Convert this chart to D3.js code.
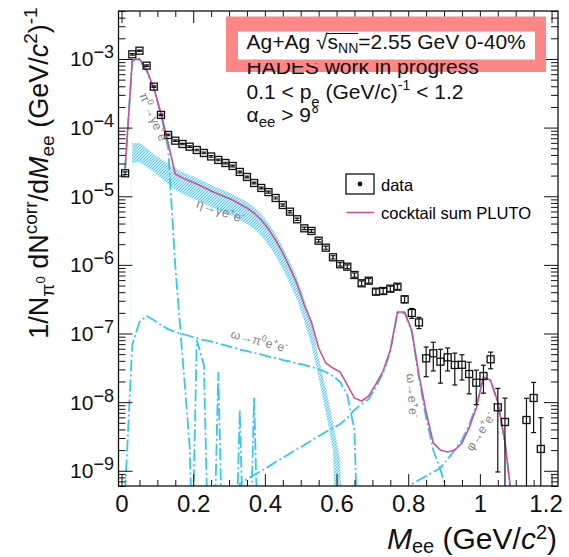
<!DOCTYPE html>
<html>
<head>
<meta charset="utf-8">
<script src="https://cdn.jsdelivr.net/npm/d3@7/dist/d3.min.js"></script>
<style>
  html, body { margin: 0; padding: 0; background: #fff; }
  svg { display: block; }
  text { font-family: "Liberation Sans", Arial, Helvetica, sans-serif; }
</style>
</head>
<body>
<svg id="chart" width="569" height="557"></svg>
<script>
// ---------------- measured dielectron yield (Ag+Ag, 0-40%) ----------------
const dataMass = [
  0.01,0.03,0.05,0.07,0.09,0.11,0.13,0.15,0.17,0.19,
  0.21,0.23,0.25,0.27,0.29,0.31,0.33,0.35,0.37,0.39,
  0.41,0.43,0.45,0.47,0.49,0.51,0.53,0.55,0.57,0.59,
  0.61,0.63,0.65,0.67,0.69,0.71,0.73,0.75,0.77,0.79,
  0.81,0.83,0.85,0.87,0.89,0.91,0.93,0.95,0.97,0.99,
  1.01,1.03,1.05,1.07,1.13,1.15,1.17
];
const dataYield = [
  2.16e-5,1.17e-3,1.32e-3,7.99e-4,3.95e-4,1.53e-4,7.81e-5,6.45e-5,5.77e-5,5.27e-5,
  4.72e-5,4.27e-5,3.80e-5,3.38e-5,3.05e-5,2.76e-5,2.26e-5,1.91e-5,1.56e-5,1.32e-5,
  1.15e-5,9.43e-6,7.46e-6,5.96e-6,4.62e-6,3.41e-6,3.12e-6,2.25e-6,1.78e-6,1.29e-6,
  1.02e-6,9.41e-7,7.12e-7,5.39e-7,5.88e-7,4.07e-7,4.16e-7,4.50e-7,4.81e-7,3.15e-7,
  1.99e-7,1.45e-7,4.35e-8,5.15e-8,3.89e-8,4.50e-8,3.48e-8,3.50e-8,2.57e-8,1.92e-8,
  2.40e-8,4.21e-8,8.41e-9,5.14e-9,5.49e-9,1.15e-8,2.08e-9
];
const dataErr = [
  1.0e-6,3.0e-5,3.0e-5,2.0e-5,1.0e-5,4.0e-6,2.0e-6,1.6e-6,1.4e-6,1.3e-6,
  1.2e-6,1.1e-6,1.0e-6,9.0e-7,8.0e-7,7.5e-7,6.5e-7,5.5e-7,4.8e-7,4.2e-7,
  3.8e-7,3.2e-7,2.7e-7,2.3e-7,1.9e-7,1.5e-7,1.4e-7,1.1e-7,9.0e-8,7.0e-8,
  6.0e-8,6.0e-8,5.0e-8,4.5e-8,4.5e-8,3.8e-8,3.8e-8,4.0e-8,4.2e-8,3.5e-8,
  3.3e-8,2.7e-8,2.0e-8,2.3e-8,2.0e-8,1.65e-8,1.7e-8,1.4e-8,1.25e-8,1.0e-8,
  1.05e-8,1.15e-8,7.45e-9,6.3e-9,5.9e-9,7.9e-9,3.85e-9
];

// ---------------- PLUTO cocktail (same mass binning for every source) ----------------
const cocktailMass = [
  0.01,0.03,0.05,0.07,0.09,0.11,0.13,0.15,0.17,0.19,
  0.21,0.23,0.25,0.27,0.29,0.31,0.33,0.35,0.37,0.39,
  0.41,0.43,0.45,0.47,0.49,0.51,0.53,0.55,0.57,0.59,
  0.61,0.63,0.65,0.67,0.69,0.71,0.73,0.75,0.77,0.79,
  0.81,0.83,0.85,0.87,0.89,0.91,0.93,0.95,0.97,0.99,
  1.01,1.03,1.05,1.07,1.09
];
const cocktailSum = [
  2.58e-5,9.67e-4,1.00e-3,6.91e-4,3.78e-4,1.63e-4,5.97e-5,2.11e-5,1.85e-5,1.67e-5,
  1.51e-5,1.34e-5,1.19e-5,1.08e-5,9.75e-6,8.82e-6,7.71e-6,6.74e-6,5.70e-6,4.51e-6,
  3.33e-6,2.30e-6,1.49e-6,9.01e-7,5.27e-7,2.60e-7,1.47e-7,6.15e-8,3.72e-8,3.14e-8,
  2.75e-8,1.78e-8,1.15e-8,1.04e-8,1.23e-8,1.84e-8,2.84e-8,5.75e-8,2.06e-7,2.06e-7,
  1.12e-7,2.49e-8,7.18e-9,2.54e-9,2.01e-9,1.88e-9,2.01e-9,2.54e-9,4.20e-9,8.22e-9,
  2.32e-8,2.10e-8,1.01e-8,2.63e-9,3.5e-10
];
const pi0Dalitz = [
  2.41e-5,9.35e-4,9.67e-4,6.69e-4,3.65e-4,1.53e-4,5.05e-5,9.63e-7,4.70e-8,2.30e-9,
  0,0,0,0,0,0,0,0,0,0,
  0,0,0,0,0,0,0,0,0,0,
  0,0,0,0,0,0,0,0,0,0,
  0,0,0,0,0,0,0,0,0,0,
  0,0,0,0,0
];
const etaDalitzHigh = [
  0,5.97e-5,5.97e-5,5.05e-5,4.13e-5,3.49e-5,2.95e-5,2.58e-5,2.26e-5,2.04e-5,
  1.85e-5,1.64e-5,1.46e-5,1.32e-5,1.19e-5,1.08e-5,9.43e-6,8.25e-6,6.97e-6,5.51e-6,
  4.08e-6,2.82e-6,1.82e-6,1.10e-6,6.44e-7,3.18e-7,1.47e-7,4.40e-8,1.61e-8,5.14e-9,
  1.44e-9,0,0,0,0,0,0,0,0,0,
  0,0,0,0,0,0,0,0,0,0,
  0,0,0,0,0
];
const etaDalitzLow = [
  0,3.05e-5,3.16e-5,2.67e-5,2.26e-5,1.85e-5,1.51e-5,1.23e-5,1.08e-5,9.75e-6,
  8.82e-6,7.84e-6,6.97e-6,6.31e-6,5.70e-6,5.16e-6,4.51e-6,3.94e-6,3.33e-6,2.64e-6,
  1.95e-6,1.35e-6,8.71e-7,5.27e-7,3.08e-7,1.52e-7,6.80e-8,2.25e-8,7.18e-9,2.01e-9,
  0,0,0,0,0,0,0,0,0,0,
  0,0,0,0,0,0,0,0,0,0,
  0,0,0,0,0
];
const omegaDalitz = [
  5.0e-10,6.80e-8,1.47e-7,1.80e-7,1.57e-7,1.33e-7,1.16e-7,1.05e-7,9.84e-8,9.20e-8,
  8.60e-8,8.04e-8,7.65e-8,7.15e-8,6.69e-8,6.26e-8,5.85e-8,5.56e-8,5.20e-8,4.95e-8,
  4.62e-8,4.40e-8,4.11e-8,3.91e-8,3.66e-8,3.48e-8,3.25e-8,3.04e-8,2.75e-8,2.40e-8,
  1.97e-8,1.27e-8,3.93e-9,0,0,0,0,0,0,0,
  0,0,0,0,0,0,0,0,0,0,
  0,0,0,0,0
];
const omegaDirect = [
  0,0,0,0,0,0,0,0,0,0,
  8.04e-8,3.48e-8,0,2.75e-8,0,0,6.42e-10,7.59e-10,8.68e-10,9.93e-10,
  1.15e-9,1.34e-9,1.54e-9,1.79e-9,2.08e-9,2.37e-9,2.76e-9,3.21e-9,3.67e-9,4.20e-9,
  4.80e-9,5.87e-9,7.69e-9,9.40e-9,1.11e-8,1.66e-8,2.66e-8,5.38e-8,1.99e-7,1.99e-7,
  1.05e-7,2.25e-8,5.87e-9,2.01e-9,1.03e-9,4.91e-10,0,0,0,0,
  0,0,0,0,0
];
const phiDirect = [
  0,0,0,0,0,0,0,0,0,0,
  0,0,0,0,0,0,7.69e-9,0,1.15e-8,0,
  0,0,0,0,0,0,0,0,0,0,
  0,0,0,0,0,0,0,0,0,0,
  6.42e-10,7.34e-10,8.39e-10,9.60e-10,1.10e-9,1.48e-9,2.01e-9,2.81e-9,4.65e-9,9.09e-9,
  2.25e-8,2.03e-8,9.72e-9,2.54e-9,3.51e-10
];

// ---------------- axis ticks ----------------
const xMajorTicks = [0, 0.2, 0.4, 0.6, 0.8, 1, 1.2];
const yMajorTicks = [1e-9, 1e-8, 1e-7, 1e-6, 1e-5, 1e-4, 1e-3];

// ---------------- layout ----------------
const frame = { left: 118.5, right: 558, top: 11, bottom: 486 };
const x = d3.scaleLinear().domain([-0.0085, 1.218]).range([frame.left, frame.right]);
const y = d3.scaleLog().domain([6e-10, 5e-3]).range([frame.bottom, frame.top]);
const OFFSCALE = 1e-12;               // empty bins drop far below the frame and get clipped
const yv = v => y(v > 0 ? v : OFFSCALE);

const BLUE = "#36c6f4";
const PINK = "#cc5290";
const LABEL_GRAY = "#858585";

const svg = d3.select("#chart");
const defs = svg.append("defs");
defs.append("clipPath").attr("id", "plotClip")
  .append("rect")
  .attr("x", frame.left).attr("y", frame.top)
  .attr("width", frame.right - frame.left).attr("height", frame.bottom - frame.top);

// fine hatch used for the eta Dalitz uncertainty band
const hatch = defs.append("pattern").attr("id", "etaHatch")
  .attr("patternUnits", "userSpaceOnUse").attr("width", 3).attr("height", 3);
hatch.append("rect").attr("width", 3).attr("height", 3).attr("fill", "#c4ebfa");
hatch.append("path").attr("d", "M-1,1 L1,-1 M0,3 L3,0 M2,4 L4,2")
  .attr("stroke", "#55c6f0").attr("stroke-width", 0.9);

// rich text helper: parts carry a baseline shift relative to the main baseline
function rich(textSel, parts) {
  let shift = 0;
  parts.forEach(p => {
    const target = p.shift || 0;
    const ts = textSel.append("tspan").text(p.t).attr("dy", target - shift);
    shift = target;
    if (p.size) ts.attr("font-size", p.size);
    if (p.italic) ts.attr("font-style", "italic");
  });
  return textSel;
}

const rows = cocktailMass.map((m, i) => ({
  m,
  sum: cocktailSum[i],
  pi0: pi0Dalitz[i],
  etaHi: etaDalitzHigh[i],
  etaLo: etaDalitzLow[i],
  omD: omegaDalitz[i],
  om: omegaDirect[i],
  phi: phiDirect[i]
}));

const plot = svg.append("g").attr("clip-path", "url(#plotClip)");

// eta -> gamma e+e- band
plot.append("path")
  .datum(rows)
  .attr("d", d3.area().x(d => x(d.m)).y0(d => yv(d.etaLo)).y1(d => yv(d.etaHi)))
  .attr("fill", "url(#etaHatch)")
  .attr("stroke", "none");

// individual cocktail sources (dash-dotted)
["pi0", "omD", "om", "phi"].forEach(key => {
  plot.append("path")
    .datum(rows)
    .attr("d", d3.line().x(d => x(d.m)).y(d => yv(d[key])))
    .attr("fill", "none")
    .attr("stroke", BLUE)
    .attr("stroke-width", 1.8)
    .attr("stroke-dasharray", "12,3,2,3");
});

// cocktail sum
plot.append("path")
  .datum(rows)
  .attr("d", d3.line().x(d => x(d.m)).y(d => yv(d.sum)))
  .attr("fill", "none")
  .attr("stroke", PINK)
  .attr("stroke-width", 1.6);

// data points with statistical error bars
const pts = dataMass.map((m, i) => ({ m, v: dataYield[i], e: dataErr[i] }));
const errG = plot.append("g").attr("stroke", "#111").attr("stroke-width", 1.2);
pts.forEach(p => {
  const cx = x(p.m);
  const yHi = y(p.v + p.e);
  const yLo = yv(p.v - p.e);
  errG.append("line").attr("x1", cx).attr("x2", cx).attr("y1", yHi).attr("y2", yLo);
  errG.append("line").attr("x1", cx - 2.5).attr("x2", cx + 2.5).attr("y1", yHi).attr("y2", yHi);
  if (p.v - p.e > 0) errG.append("line").attr("x1", cx - 2.5).attr("x2", cx + 2.5).attr("y1", yLo).attr("y2", yLo);
});
plot.append("g").selectAll("rect").data(pts).join("rect")
  .attr("x", d => x(d.m) - 3.5).attr("y", d => y(d.v) - 3.5)
  .attr("width", 7).attr("height", 7)
  .attr("fill", "none").attr("stroke", "#111").attr("stroke-width", 1.3);

// source labels
function sourceLabel(cx, cy, angle, size, parts) {
  const t = svg.append("text")
    .attr("transform", `translate(${cx},${cy}) rotate(${angle})`)
    .attr("text-anchor", "middle")
    .attr("font-size", size)
    .attr("fill", LABEL_GRAY);
  rich(t, parts);
}
sourceLabel(150, 120, 66, 12.5, [
  { t: "π" }, { t: "0", size: 9, shift: -5 }, { t: "→γe" }, { t: "+", size: 9, shift: -5 },
  { t: "e" }, { t: "-", size: 9, shift: -5 }
]);
sourceLabel(219, 215, 19, 13, [
  { t: "η→γe" }, { t: "+", size: 9, shift: -5 }, { t: "e" }, { t: "-", size: 9, shift: -5 }
]);
sourceLabel(258, 345, 15, 12.5, [
  { t: "ω→π" }, { t: "0", size: 9, shift: -5 }, { t: "e" }, { t: "+", size: 9, shift: -5 },
  { t: "e" }, { t: "-", size: 9, shift: -5 }
]);
sourceLabel(408, 396, 86, 12.5, [
  { t: "ω→e" }, { t: "+", size: 9, shift: -5 }, { t: "e" }, { t: "-", size: 9, shift: -5 }
]);
sourceLabel(484, 434, -57, 12.5, [
  { t: "φ→e" }, { t: "+", size: 9, shift: -5 }, { t: "e" }, { t: "-", size: 9, shift: -5 }
]);

// legend
const legend = svg.append("g");
legend.append("rect").attr("x", 346).attr("y", 174).attr("width", 28).attr("height", 20)
  .attr("fill", "#fff").attr("stroke", "#111").attr("stroke-width", 1.3);
legend.append("circle").attr("cx", 360).attr("cy", 184).attr("r", 2.4).attr("fill", "#111");
legend.append("text").attr("x", 381).attr("y", 190.5).attr("font-size", 16.5).text("data");
legend.append("line").attr("x1", 346.5).attr("x2", 374).attr("y1", 212.5).attr("y2", 212.5)
  .attr("stroke", PINK).attr("stroke-width", 1.6);
legend.append("text").attr("x", 381).attr("y", 219).attr("font-size", 16.5).text("cocktail sum PLUTO");

// info text block
const info = svg.append("g").attr("font-size", 21).attr("fill", "#111");
rich(info.append("text").attr("x", 246.5).attr("y", 99), [
  { t: "0.1 < p" }, { t: "e", size: 15, shift: 8 }, { t: " (GeV/c)" },
  { t: "-1", size: 14, shift: -9 }, { t: " < 1.2" }
]);
rich(info.append("text").attr("x", 246.5).attr("y", 122), [
  { t: "α" }, { t: "ee", size: 15, shift: 5 }, { t: " > 9°" }
]);

// ---------------- axes ----------------
function styleAxis(g) {
  g.select(".domain").remove();
  g.selectAll(".tick line").attr("stroke", "#111").attr("stroke-width", 1);
}
const xMinorTicks = d3.range(0, 1.2001, 0.05).filter(v => Math.abs(v / 0.2 - Math.round(v / 0.2)) > 1e-6);
const yMinorTicks = [];
for (let e = -10; e <= -3; e++) {
  for (let k = 2; k <= 9; k++) {
    const v = k * Math.pow(10, e);
    if (v >= 6e-10 && v <= 5e-3) yMinorTicks.push(v);
  }
}

const xAxisG = svg.append("g").attr("transform", `translate(0,${frame.bottom})`)
  .call(d3.axisBottom(x).tickValues(xMajorTicks).tickSize(-12).tickPadding(9).tickFormat(d3.format("~g")))
  .call(styleAxis);
xAxisG.attr("font-size", 24).attr("font-family", null);
xAxisG.selectAll(".tick text").attr("fill", "#111");
xAxisG.selectAll(".tick:last-of-type text").attr("dx", -6);
svg.append("g").attr("transform", `translate(0,${frame.bottom})`)
  .call(d3.axisBottom(x).tickValues(xMinorTicks).tickSize(-6).tickFormat(""))
  .call(styleAxis);
svg.append("g").attr("transform", `translate(0,${frame.top})`)
  .call(d3.axisTop(x).tickValues(xMajorTicks).tickSize(-12).tickFormat(""))
  .call(styleAxis);
svg.append("g").attr("transform", `translate(0,${frame.top})`)
  .call(d3.axisTop(x).tickValues(xMinorTicks).tickSize(-6).tickFormat(""))
  .call(styleAxis);
svg.append("g").attr("transform", `translate(${frame.left},0)`)
  .call(d3.axisLeft(y).tickValues(yMajorTicks).tickSize(-14).tickFormat(""))
  .call(styleAxis);
svg.append("g").attr("transform", `translate(${frame.left},0)`)
  .call(d3.axisLeft(y).tickValues(yMinorTicks).tickSize(-7).tickFormat(""))
  .call(styleAxis);
svg.append("g").attr("transform", `translate(${frame.right},0)`)
  .call(d3.axisRight(y).tickValues(yMajorTicks).tickSize(-14).tickFormat(""))
  .call(styleAxis);
svg.append("g").attr("transform", `translate(${frame.right},0)`)
  .call(d3.axisRight(y).tickValues(yMinorTicks).tickSize(-7).tickFormat(""))
  .call(styleAxis);

// y tick labels as powers of ten
yMajorTicks.forEach(v => {
  const t = svg.append("text").attr("x", 114).attr("y", y(v) + 7.5)
    .attr("text-anchor", "end").attr("font-size", 21).attr("fill", "#111");
  rich(t, [{ t: "10" }, { t: "−" + Math.abs(Math.round(Math.log10(v))), size: 18, shift: -8 }]);
});

svg.append("rect")
  .attr("x", frame.left).attr("y", frame.top)
  .attr("width", frame.right - frame.left).attr("height", frame.bottom - frame.top)
  .attr("fill", "none").attr("stroke", "#111").attr("stroke-width", 1.3);

// axis titles
rich(svg.append("text").attr("x", 557).attr("y", 549).attr("text-anchor", "end")
  .attr("font-size", 30).attr("fill", "#111"), [
  { t: "M", italic: true }, { t: "ee", size: 20, shift: 4 }, { t: " (GeV/" },
  { t: "c", italic: true }, { t: "2", size: 20, shift: -10 }, { t: ")" }
]);
rich(svg.append("text").attr("transform", "translate(48,173) rotate(-90)")
  .attr("text-anchor", "middle").attr("font-size", 27).attr("fill", "#111"), [
  { t: "1/N" }, { t: "π", size: 19, shift: 6 }, { t: "0", size: 13, shift: -3 },
  { t: " dN" }, { t: "corr", size: 19, shift: -11 }, { t: "/d" },
  { t: "M", italic: true }, { t: "ee", size: 19, shift: 6 }, { t: " (GeV/" },
  { t: "c", italic: true }, { t: "2", size: 19, shift: -11 }, { t: ")" },
  { t: "-1", size: 19, shift: -11 }
]);

// collision system banner
const banner = svg.append("g");
banner.append("rect").attr("x", 226).attr("y", 16.5).attr("width", 320).attr("height", 55.5).attr("fill", "#fd8686");
banner.append("rect").attr("x", 238).attr("y", 31.5).attr("width", 297).attr("height", 28).attr("fill", "#fff");
defs.append("clipPath").attr("id", "prelimClip")
  .append("rect").attr("x", 0).attr("y", 63).attr("width", 569).attr("height", 40);
banner.append("text").attr("x", 246.5).attr("y", 74).attr("font-size", 21).attr("fill", "#111")
  .attr("clip-path", "url(#prelimClip)").text("HADES work in progress");
const sys = rich(banner.append("text").attr("x", 246.5).attr("y", 49).attr("font-size", 21).attr("fill", "#111"), [
  { t: "Ag+Ag " }, { t: "√" }, { t: "s" }, { t: "NN", size: 14, shift: 4 }, { t: "=2.55 GeV 0-40%" }
]);
const sNode = sys.node();
const x0 = sNode.getStartPositionOfChar(7).x;
const x1 = sNode.getEndPositionOfChar(9).x;
banner.append("line").attr("x1", x0 - 1).attr("x2", x1).attr("y1", 33.5).attr("y2", 33.5)
  .attr("stroke", "#111").attr("stroke-width", 1);
</script>
</body>
</html>
